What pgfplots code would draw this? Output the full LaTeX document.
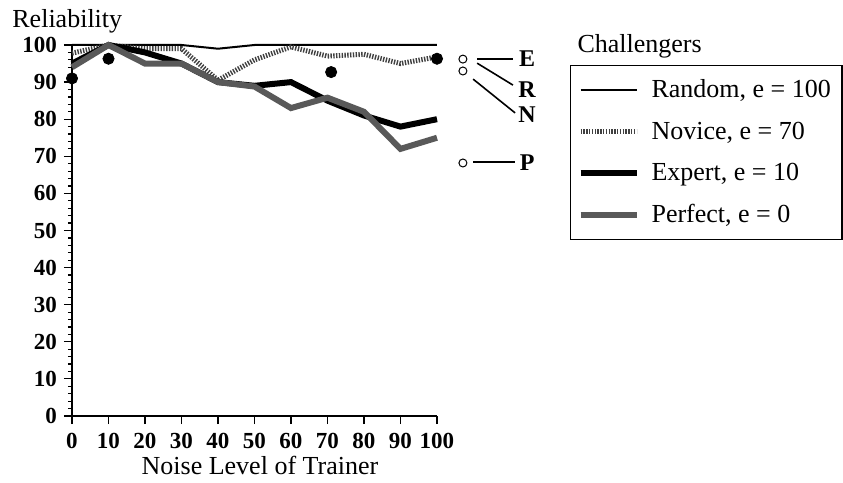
\documentclass[border=0pt]{standalone}
\usepackage{fontspec}
\setmainfont{Liberation Serif}
\usepackage{pgfplots}
\pgfplotsset{compat=1.18}
\begin{document}
\begin{tikzpicture}
\useasboundingbox (-36pt,-33.5pt) rectangle (385.5pt,208pt);
\begin{axis}[
 at={(0,0)}, anchor=south west,
 scale only axis, width=182.5pt, height=185.5pt,
 xmin=0, xmax=100, ymin=0, ymax=100,
 axis lines=left, axis line style={-, line width=0.9pt},
 xtick={0,10,...,100}, ytick={0,10,...,100},
 minor y tick num=4,
 tick align=outside, major tick length=4pt, minor tick length=2pt,
 tick style={black, line width=0.6pt},
 ticklabel style={font=\fontsize{11.5}{13}\selectfont\bfseries},
 xticklabel style={yshift=-1pt},
 /pgf/number format/assume math mode=true,
 clip=false,
 legend style={at={(1.364,0.946)}, anchor=north west, draw=black, line width=0.7pt,
   font=\fontsize{13}{15}\selectfont, inner xsep=3.5pt, inner ysep=5pt, row sep=6.5pt},
 legend cell align=left,
 legend image code/.code={\draw[#1] (0pt,0pt) -- (28pt,0pt); \path (32pt,0pt);},
]
\addplot[black, line width=1pt] coordinates {(0,100)(10,100)(20,100)(30,100)(40,99)(50,100)(60,100)(70,100)(80,100)(90,100)(100,100)};
\addlegendentry{Random, e = 100}
\addplot[black!75, line width=2.5pt, dash pattern=on 0.7pt off 0.7pt] coordinates {(0,97.8)(10,100)(20,99)(30,99)(40,90.5)(50,96)(60,99.5)(70,97)(80,97.5)(90,95)(100,96.8)};
\addlegendentry{Novice, e = 70}
\addplot[black, line width=3pt] coordinates {(0,95)(10,100)(20,98)(30,95)(40,90)(50,89)(60,90)(70,85)(80,81)(90,78)(100,80)};
\addlegendentry{Expert, e = 10}
\addplot[black!65, line width=3pt] coordinates {(0,94)(10,100)(20,95)(30,95)(40,90)(50,88.8)(60,83)(70,85.8)(80,82)(90,72)(100,75)};
\addlegendentry{Perfect, e = 0}
\addplot[only marks, mark=*, mark size=2.8pt, black, forget plot] coordinates {(0,91)(10,96.3)(71,92.7)(100,96.3)};
\addplot[only marks, mark=o, mark size=2pt, black, line width=0.5pt, forget plot] coordinates {(107.1,96.2)(107.1,93)(107.1,68.2)};
\draw[line width=0.8pt] (axis cs:111,96.2) -- (axis cs:120.8,96.2);
\draw[line width=0.8pt] (axis cs:111,95.1) -- (axis cs:120.8,89.2);
\draw[line width=0.8pt] (axis cs:109.9,90.8) -- (axis cs:121.4,81.7);
\draw[line width=0.8pt] (axis cs:109.9,68.5) -- (axis cs:121.4,68.5);
\node[font=\fontsize{12}{14}\selectfont\bfseries] at (axis cs:124.7,96.2) {E};
\node[font=\fontsize{12}{14}\selectfont\bfseries] at (axis cs:124.7,87.9) {R};
\node[font=\fontsize{12}{14}\selectfont\bfseries] at (axis cs:124.7,81.1) {N};
\node[font=\fontsize{12}{14}\selectfont\bfseries] at (axis cs:124.7,68.2) {P};
\node[anchor=base west, inner sep=0pt, font=\fontsize{13}{15}\selectfont] at (axis description cs:-0.1644,1.048) {Reliability};
\node[anchor=base, inner sep=0pt, font=\fontsize{13}{15}\selectfont] at (axis description cs:0.515,-0.159) {Noise Level of Trainer};
\node[anchor=base west, inner sep=0pt, font=\fontsize{13}{15}\selectfont] at (axis description cs:1.384,0.981) {Challengers};
\end{axis}
\end{tikzpicture}
\end{document}
